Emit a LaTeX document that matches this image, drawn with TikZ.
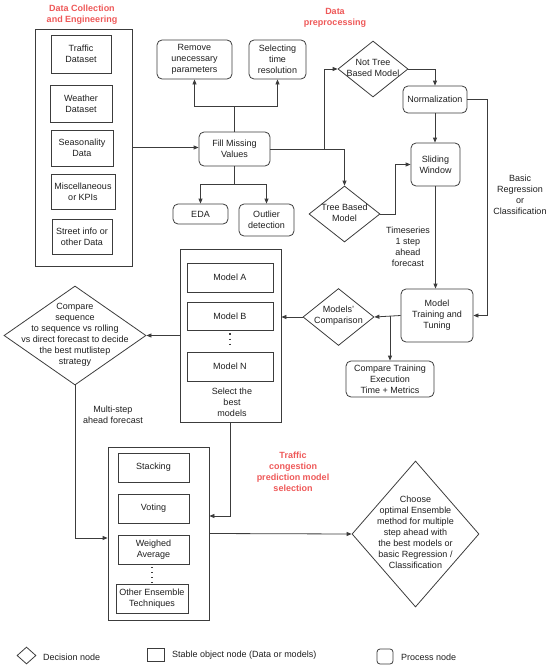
\documentclass[tikz,border=0pt]{standalone}
\usepackage{fontspec}
\setmainfont{Liberation Sans}
\usetikzlibrary{shapes.geometric,arrows.meta}
\definecolor{ttl}{RGB}{238,88,88}
\definecolor{ln}{RGB}{60,60,60}
\definecolor{tx}{RGB}{30,30,30}
\begin{document}
\begin{tikzpicture}[x=1pt,y=-1pt,
  every node/.style={font=\fontsize{9}{11}\selectfont, text=tx},
  obj/.style={draw=ln, line width=0.8pt, rectangle, inner sep=0pt, align=center},
  proc/.style={draw=ln, line width=0.8pt, rectangle, rounded corners=5pt, inner sep=0pt, align=center},
  dec/.style={draw=ln, line width=0.8pt, diamond, inner sep=0pt},
  txt/.style={align=center, inner sep=0pt},
  ttlbl/.style={align=center, inner sep=0pt, text=ttl, font=\fontsize{9}{11}\selectfont\bfseries},
  arr/.style={draw=ln, line width=0.8pt, -{Triangle[length=5pt,width=4pt]}},
  con/.style={draw=ln, line width=0.8pt},
  vdots/.style={draw=ln, line width=1.1pt, dash pattern=on 1.1pt off 4pt}]
\useasboundingbox (0,0) rectangle (550,669);

% titles
\node[ttlbl] (t1) at (82,15) {Data Collection\\and Engineering};
\node[ttlbl] (t2) at (335,17.5) {Data\\preprocessing};
\node[ttlbl] (t3) at (293,472) {Traffic\\congestion\\prediction model\\selection};

% data collection
\node[obj, minimum width=97, minimum height=237] (dce) at (83.5,147.5) {};
\node[obj, minimum width=60, minimum height=38] (traffic) at (81,54) {Traffic\\Dataset};
\node[obj, minimum width=62, minimum height=37] (weather) at (81,103.5) {Weather\\Dataset};
\node[obj, minimum width=62, minimum height=36] (season) at (82,148) {Seasonality\\Data};
\node[obj, minimum width=64, minimum height=35] (misc) at (83,191.5) {Miscellaneous\\or KPIs};
\node[obj, minimum width=60, minimum height=35] (street) at (82,236.5) {Street info or\\other Data};

% preprocessing
\node[proc, minimum width=71, minimum height=34] (fill) at (234.5,149) {Fill Missing\\Values};
\node[proc, minimum width=75, minimum height=39] (remove) at (194.5,59.5) {Remove\\unecessary\\parameters};
\node[proc, minimum width=57, minimum height=39] (select) at (277.5,59.5) {Selecting\\time\\resolution};
\node[proc, minimum width=55, minimum height=20] (eda) at (200.5,214) {EDA};
\node[proc, minimum width=55, minimum height=32] (outlier) at (266.5,220) {Outlier\\detection};
\node[dec, minimum width=70, minimum height=56] (nottree) at (373,69) {};
\node[txt] (nottreet) at (373,67.5) {Not Tree\\Based Model};
\node[dec, minimum width=71, minimum height=56] (tree) at (344.5,214) {};
\node[txt] (treet) at (344.5,212.5) {Tree Based\\Model};
\node[proc, minimum width=64, minimum height=27] (norm) at (435,99.5) {Normalization};
\node[proc, minimum width=49, minimum height=43] (sliding) at (435.5,164.5) {Sliding\\Window};
\node[proc, minimum width=72, minimum height=53] (training) at (437,315.5) {Model\\Training and\\Tuning};
\node[dec, minimum width=71, minimum height=57] (modcmp) at (338.5,317) {};
\node[txt] (modcmpt) at (338.5,315.5) {Models'\\Comparison};
\node[proc, minimum width=88, minimum height=36] (cmptrain) at (390,379) {Compare Training\\Execution\\Time + Metrics};

% models
\node[obj, minimum width=101, minimum height=173] (models) at (230.5,335.5) {};
\node[obj, minimum width=86, minimum height=29] (ma) at (230,277.5) {Model A};
\node[obj, minimum width=86, minimum height=28] (mb) at (230,316) {Model B};
\node[obj, minimum width=86, minimum height=29] (mn) at (230,366.5) {Model N};
\draw[vdots] (mb.south) ++(0,3) -- ([yshift=3pt]mn.north);
\node[txt] (selt) at (232,402) {Select the\\best\\models};

\node[dec, minimum width=142, minimum height=99] (seq) at (75,335.5) {};
\node[txt] (seqt) at (75,334.5) {Compare\\sequence\\to sequence vs rolling\\vs direct forecast to decide\\the best mutlistep\\strategy};

% ensemble
\node[obj, minimum width=101, minimum height=173] (ens) at (158.5,533.5) {};
\node[obj, minimum width=71, minimum height=29] (stack) at (153.5,467.5) {Stacking};
\node[obj, minimum width=71, minimum height=29] (vote) at (153.5,508.5) {Voting};
\node[obj, minimum width=71, minimum height=29] (weigh) at (153.5,549.5) {Weighed\\Average};
\node[obj, minimum width=72, minimum height=29] (other) at (152,598.5) {Other Ensemble\\Techniques};
\draw[vdots] (152,567) -- (152,584);

\node[dec, minimum width=127, minimum height=146] (choose) at (415.5,534) {};
\node[txt] (chooset) at (415.5,532) {Choose\\optimal Ensemble\\method for multiple\\step ahead with\\the best models or\\basic Regression /\\Classification};

% connectors
\draw[arr] (dce.east) -- (fill.west |- dce.east);
\coordinate (up) at (234.5,106);
\draw[con] (fill.north) -- (up);
\draw[arr] (up) -| (remove.south);
\draw[arr] (up) -| (select.south);
\coordinate (dn) at (234.5,184);
\draw[con] (fill.south) -- (dn);
\draw[arr] (dn) -| (eda.north);
\draw[arr] (dn) -| (outlier.north);
\coordinate (j1) at (324,149);
\draw[arr] (fill.east) -- (j1) |- (nottree.west);
\draw[arr] (fill.east) -| (tree.north);
\coordinate (j2) at (395,214);
\draw[arr] (tree.east) -- (j2) |- (sliding.west);
\draw[arr] (nottree.east) -| (norm.north);
\draw[arr] (norm.south) -- (sliding.north -| norm.south);
\coordinate (j3) at (487,99.5);
\draw[arr] (norm.east) -- (j3) |- (training.east);
\draw[arr] (sliding.south) -- (training.north -| sliding.south);
\node[txt, anchor=east] (tsl) at (430,247) {Timeseries\\1 step\\ahead\\forecast};
\node[txt] (brl) at (520,195) {Basic\\Regression\\or\\Classification};
\draw[arr] (training.west) -- (modcmp.east);
\coordinate (j4) at (390,316);
\draw[arr] (j4) -- (cmptrain.north);
\draw[arr] (modcmp.west) -- (models.east |- modcmp.west);
\draw[arr] (models.west) -- (seq.east);
\draw[arr] (seq.south) |- ([yshift=-4.5pt]ens.west);
\node[txt] (msl) at (113,414.5) {Multi-step\\ahead forecast};
\draw[arr] (models.south) |- ([yshift=17.5pt]ens.east);
\draw[arr] (ens.east) -- (choose.west);

% legend
\node[dec, minimum width=19, minimum height=17] (legd) at (26.5,655.5) {};
\node[txt, anchor=west] (legdt) at (43,657) {Decision node};
\node[obj, minimum width=17, minimum height=13] (lego) at (155.5,654.5) {};
\node[txt, anchor=west] (legot) at (172,655) {Stable object node (Data or models)};
\node[proc, minimum width=16, minimum height=15, rounded corners=3pt] (legp) at (385,656.5) {};
\node[txt, anchor=west] (legpt) at (401,657) {Process node};
\end{tikzpicture}
\end{document}
